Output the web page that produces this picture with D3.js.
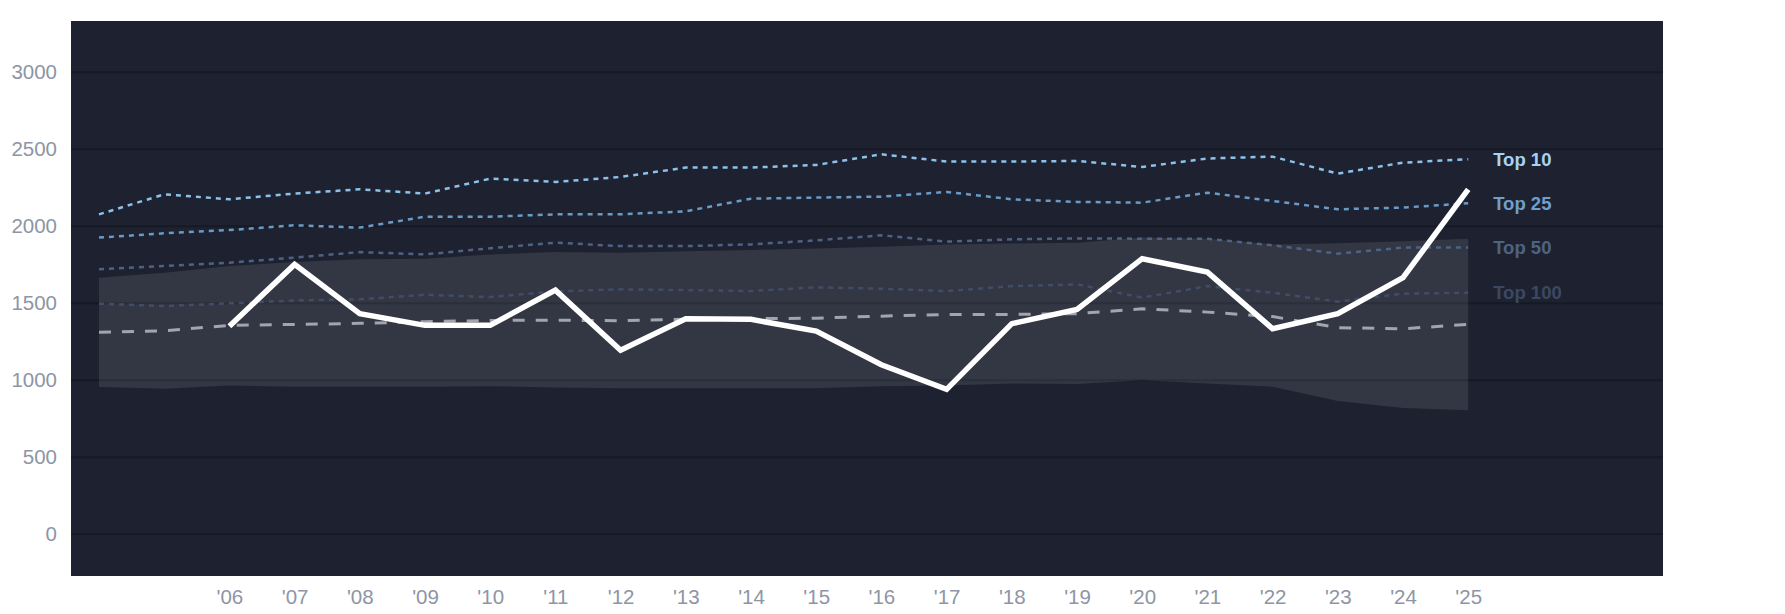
<!DOCTYPE html>
<html>
<head>
<meta charset="utf-8">
<script src="https://cdn.jsdelivr.net/npm/d3@7"></script>
<style>
  body { margin: 0; background: #fff; }
  text { font-family: "Liberation Sans", Arial, Helvetica, sans-serif; }
</style>
</head>
<body>
<div class="div_d3"></div>
<script>
const years = [2004, 2005, 2006, 2007, 2008, 2009, 2010, 2011, 2012, 2013, 2014,
               2015, 2016, 2017, 2018, 2019, 2020, 2021, 2022, 2023, 2024, 2025];

const top10  = [2077, 2207, 2175, 2212, 2240, 2212, 2309, 2288, 2320, 2381, 2381,
                2398, 2467, 2420, 2420, 2424, 2385, 2440, 2452, 2342, 2413, 2435];
const top25  = [1926, 1954, 1975, 2006, 1991, 2062, 2062, 2077, 2077, 2097, 2179,
                2186, 2192, 2223, 2175, 2158, 2153, 2218, 2164, 2110, 2121, 2149];
const top50  = [1720, 1741, 1763, 1796, 1832, 1817, 1857, 1893, 1871, 1871, 1882,
                1908, 1941, 1900, 1915, 1921, 1919, 1919, 1876, 1822, 1861, 1861];
const top100 = [1497, 1481, 1499, 1518, 1525, 1555, 1540, 1577, 1590, 1585, 1579,
                1603, 1594, 1579, 1611, 1622, 1536, 1611, 1568, 1510, 1562, 1568];

// grey dashed middle line
const median = [1312, 1321, 1356, 1362, 1369, 1380, 1388, 1390, 1386, 1395, 1399,
                1403, 1416, 1427, 1427, 1432, 1464, 1442, 1413, 1341, 1334, 1362];

// shaded band
const bandHigh = [1666, 1698, 1741, 1767, 1785, 1789, 1817, 1832, 1828, 1838, 1846,
                  1856, 1867, 1882, 1887, 1893, 1926, 1919, 1882, 1889, 1902, 1919];
const bandLow  = [955, 944, 965, 957, 957, 958, 961, 952, 948, 948, 948,
                  948, 961, 965, 978, 975, 1000, 978, 957, 864, 820, 805];

// thick white line, 2006 onwards
const teamYears = [2006, 2007, 2008, 2009, 2010, 2011, 2012, 2013, 2014, 2015,
                   2016, 2017, 2018, 2019, 2020, 2021, 2022, 2023, 2024, 2025];
const team = [1351, 1752, 1432, 1356, 1356, 1585, 1195, 1399, 1395, 1319,
              1100, 940, 1367, 1460, 1789, 1702, 1334, 1432, 1666, 2240];

const yTicks = [0, 500, 1000, 1500, 2000, 2500, 3000];
const xTicks = teamYears;

const tiers = [
  {name: "Top 10",  values: top10,  line: "#8cc2ea", label: "#a6d2f4"},
  {name: "Top 25",  values: top25,  line: "#6a9bc6", label: "#6f9fca"},
  {name: "Top 50",  values: top50,  line: "#4e6384", label: "#4e6282"},
  {name: "Top 100", values: top100, line: "#414d67", label: "#3c4862"}
];

const margin = {top: 21, right: 122, bottom: 38, left: 71},
      width = 1785 - margin.left - margin.right,
      height = 614 - margin.top - margin.bottom;

const svg = d3.select(".div_d3")
  .append("svg")
    .attr("width", width + margin.left + margin.right)
    .attr("height", height + margin.top + margin.bottom)
    .append("g")
    .attr("transform", `translate(${margin.left},${margin.top})`);

const x = d3.scaleLinear()
  .domain([2004, 2025])
  .range([28, 28 + 21 * 65.2]);

const y = d3.scaleLinear()
  .domain([-272, 3333])
  .range([height, 0]);

// plot background
svg.append("rect")
  .attr("width", width)
  .attr("height", height)
  .attr("fill", "#1e2230");

// grid
svg.append("g")
  .selectAll("line")
  .data(yTicks)
  .enter().append("line")
    .attr("x1", 0)
    .attr("x2", width)
    .attr("y1", d => y(d))
    .attr("y2", d => y(d))
    .style("stroke", "#161a25")
    .style("stroke-width", 2);

// band
const band = years.map((yr, i) => ({year: yr, lo: bandLow[i], hi: bandHigh[i]}));
svg.append("path")
  .datum(band)
  .attr("fill", "rgba(255,255,255,0.095)")
  .attr("d", d3.area()
    .x(d => x(d.year))
    .y0(d => y(d.lo))
    .y1(d => y(d.hi)));

// tier lines
const line = d3.line()
  .x(d => x(d[0]))
  .y(d => y(d[1]));

for (let t of tiers) {
  svg.append("path")
    .datum(years.map((yr, i) => [yr, t.values[i]]))
    .attr("fill", "none")
    .attr("stroke", t.line)
    .attr("stroke-width", 2.5)
    .attr("stroke-dasharray", "5,5")
    .attr("d", line);

  svg.append("text")
    .attr("x", x(2025) + 25)
    .attr("y", y(t.values[t.values.length - 1]))
    .attr("dy", "0.35em")
    .attr("fill", t.label)
    .style("font-size", "18.5px")
    .style("font-weight", "bold")
    .text(t.name);
}

// grey dashed
svg.append("path")
  .datum(years.map((yr, i) => [yr, median[i]]))
  .attr("fill", "none")
  .attr("stroke", "#a0a5b0")
  .attr("stroke-width", 3)
  .attr("stroke-dasharray", "12,11")
  .attr("d", line);

// white line
svg.append("path")
  .datum(teamYears.map((yr, i) => [yr, team[i]]))
  .attr("fill", "none")
  .attr("stroke", "#ffffff")
  .attr("stroke-width", 5.5)
  .attr("d", line);

// axes
const yAxis = svg.append("g")
  .call(d3.axisLeft(y).tickValues(yTicks).tickSize(0).tickPadding(14).tickFormat(d3.format("d")));
yAxis.select(".domain").remove();
yAxis.selectAll("text")
  .attr("fill", "#8d95a6")
  .style("font-size", "20.5px");

const xAxis = svg.append("g")
  .attr("transform", `translate(0,${height})`)
  .call(d3.axisBottom(x).tickValues(xTicks).tickSize(0).tickPadding(13)
    .tickFormat(d => "'" + String(d).slice(2)));
xAxis.select(".domain").remove();
xAxis.selectAll("text")
  .attr("fill", "#8d95a6")
  .style("font-size", "20.5px");
</script>
</body>
</html>
